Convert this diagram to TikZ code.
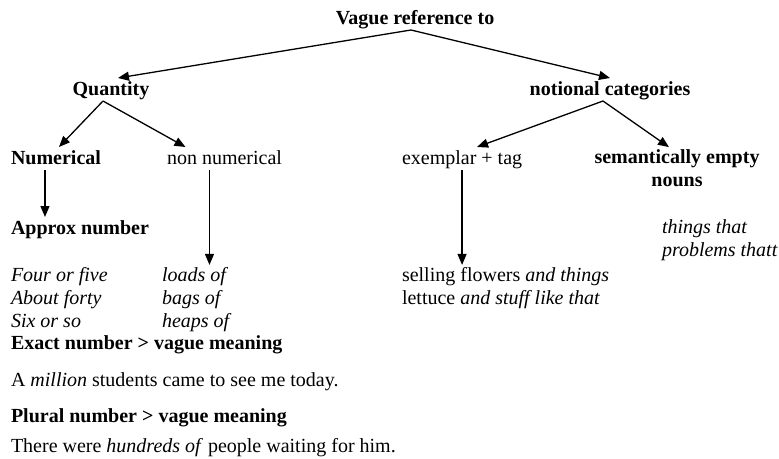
\documentclass[tikz,border=0pt]{standalone}
\usepackage{fontspec}
\setmainfont{Liberation Serif}
\usetikzlibrary{arrows.meta}
\newcommand{\figsize}{\fontsize{20}{23}\selectfont}

\begin{document}
\begin{tikzpicture}[x=1pt,y=-1pt,>={Triangle[length=11pt,width=9pt]},line width=1.3pt,
    every node/.style={inner sep=0pt,outer sep=2pt,font=\figsize},
    head node/.style={font=\figsize\bfseries,text height=15pt,text depth=4pt},
    plain node/.style={text height=15pt,text depth=4pt},
    list node/.style={align=left,anchor=base west}]
    \useasboundingbox (0,0) rectangle (779,458);

    \node[head node,anchor=base] (vague) at (415,24) {Vague reference to};
    \node[head node,anchor=base] (quantity) at (111,95) {Quantity};
    \node[head node,anchor=base] (notional) at (610,95) {notional categories};

    \node[head node,anchor=base west] (numerical) at (9,164) {Numerical};
    \node[plain node,anchor=base west] (nonnum) at (165,164) {non numerical};
    \node[plain node,anchor=base west] (exemplar) at (400,164) {exemplar + tag};
    % base of a multi-line node is its last line
    \node[align=center,anchor=base,font=\figsize\bfseries] (empty) at (677,186) {semantically empty\\nouns};

    \node[head node,anchor=base west] (approx) at (9,234) {Approx number};
    \node[list node,font=\figsize\itshape] (numlist) at (9,327) {Four or five\\About forty\\Six or so};
    \node[list node,font=\figsize\itshape] (nonnumlist) at (160,327) {loads of\\bags of\\heaps of};
    \node[list node] (tagged) at (400,304) {selling flowers \textit{and things}\\lettuce \textit{and stuff like that}};
    \node[list node,font=\figsize\itshape] (emptylist) at (660,256) {things that\\problems thatt};

    \node[head node,anchor=base west] (exact) at (9,349) {Exact number > vague meaning};
    \node[plain node,anchor=base west] (exactex) at (9,386) {A \textit{million} students came to see me today.};
    \node[head node,anchor=base west] (plural) at (9,422) {Plural number > vague meaning};
    \node[plain node,anchor=base west] (pluralex) at (9,452) {There were \textit{hundreds of} people waiting for him.};

    \path[->]
    ([xshift=-4pt]vague.south) edge ([xshift=7pt]quantity.north)
    ([xshift=-4pt]vague.south) edge (notional.north)

    ([xshift=-8pt]quantity.south) edge ([xshift=3pt]numerical.north)
    ([xshift=-8pt]quantity.south) edge ([xshift=-39pt]nonnum.north)
    ([xshift=-7pt]notional.south) edge ([xshift=15pt]exemplar.north)
    ([xshift=-7pt]notional.south) edge ([xshift=-8pt]empty.north)

    ([xshift=-11pt]numerical.south) edge ([xshift=-11pt]numerical.south |- approx.north)
    ([xshift=-15pt]nonnum.south) edge ([xshift=-15pt]nonnum.south |- nonnumlist.north)
    (exemplar.south) edge (exemplar.south |- tagged.north);
\end{tikzpicture}
\end{document}
